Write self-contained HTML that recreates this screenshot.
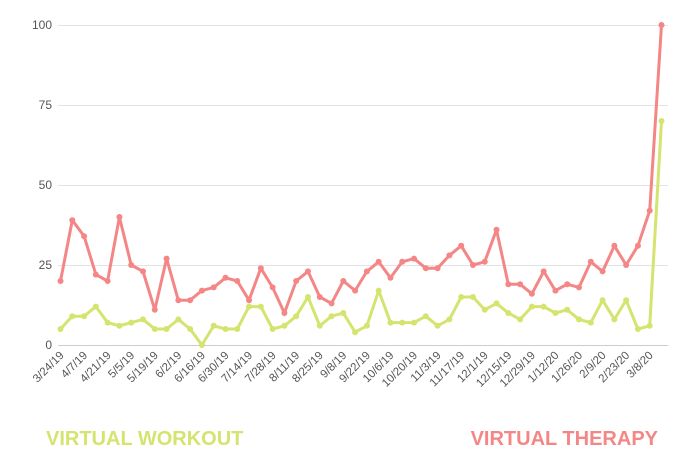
<!DOCTYPE html>
<html><head><style>body{margin:0;background:#fff}svg{display:block}</style></head><body>
<svg id="c" width="700" height="471" xmlns="http://www.w3.org/2000/svg" font-family="Liberation Sans, sans-serif">
<g stroke="#e3e3e3" stroke-width="1">
<line x1="58" x2="668" y1="25.5" y2="25.5"/><line x1="58" x2="668" y1="105.5" y2="105.5"/>
<line x1="58" x2="668" y1="185.5" y2="185.5"/><line x1="58" x2="668" y1="265.5" y2="265.5"/>
<line x1="58" x2="668" y1="345.5" y2="345.5" stroke="#ccc"/>
</g>
<g fill="#555" font-size="12" text-anchor="end">
<text x="52" y="29">100</text><text x="52" y="109">75</text><text x="52" y="189">50</text><text x="52" y="269">25</text><text x="52" y="349">0</text>
</g>
<g id="lab" fill="#555" font-size="11.5" text-anchor="end"></g>
<polyline id="g" fill="none" stroke="#d4e46e" stroke-width="3" stroke-linejoin="round"/>
<polyline id="r" fill="none" stroke="#f48686" stroke-width="3" stroke-linejoin="round"/>
<g id="dots"></g>
<text x="46" y="445" font-size="20" font-weight="bold" fill="#d4e46e">VIRTUAL WORKOUT</text>
<text x="658" y="445" font-size="20" font-weight="bold" fill="#f48686" text-anchor="end">VIRTUAL THERAPY</text>
</svg>
<script>
var R=[20,39,34,22,20,40,25,23,11,27,14,14,17,18,21,20,14,24,18,10,20,23,15,13,20,17,23,26,21,26,27,24,24,28,31,25,26,36,19,19,16,23,17,19,18,26,23,31,25,31,42,100];
var G=[5,9,9,12,7,6,7,8,5,5,8,5,0,6,5,5,12,12,5,6,9,15,6,9,10,4,6,17,7,7,7,9,6,8,15,15,11,13,10,8,12,12,10,11,8,7,14,8,14,5,6,70];
var ns="http://www.w3.org/2000/svg",x0=60.5,dx=(661.5-60.5)/51;
function X(i){return x0+i*dx}function Y(v){return 345-v*3.2}
function pts(a){return a.map(function(v,i){return X(i).toFixed(1)+","+Y(v).toFixed(1)}).join(" ")}
document.getElementById("g").setAttribute("points",pts(G));
document.getElementById("r").setAttribute("points",pts(R));
var d=document.getElementById("dots");
[[G,"#d4e46e"],[R,"#f48686"]].forEach(function(p){p[0].forEach(function(v,i){var c=document.createElementNS(ns,"circle");c.setAttribute("cx",X(i));c.setAttribute("cy",Y(v));c.setAttribute("r",3);c.setAttribute("fill",p[1]);d.appendChild(c);});});
var L=document.getElementById("lab"),s=new Date(2019,2,24);
for(var i=0;i<52;i+=2){var t=new Date(s.getTime()+i*7*864e5+3600e3*12);var txt=(t.getMonth()+1)+"/"+t.getDate()+"/"+(t.getFullYear()%100);
var e=document.createElementNS(ns,"text");var x=X(i)+4,y=356;e.setAttribute("x",x);e.setAttribute("y",y);e.setAttribute("transform","rotate(-45 "+x+" "+y+")");e.textContent=txt;L.appendChild(e);}
</script>
</body></html>
